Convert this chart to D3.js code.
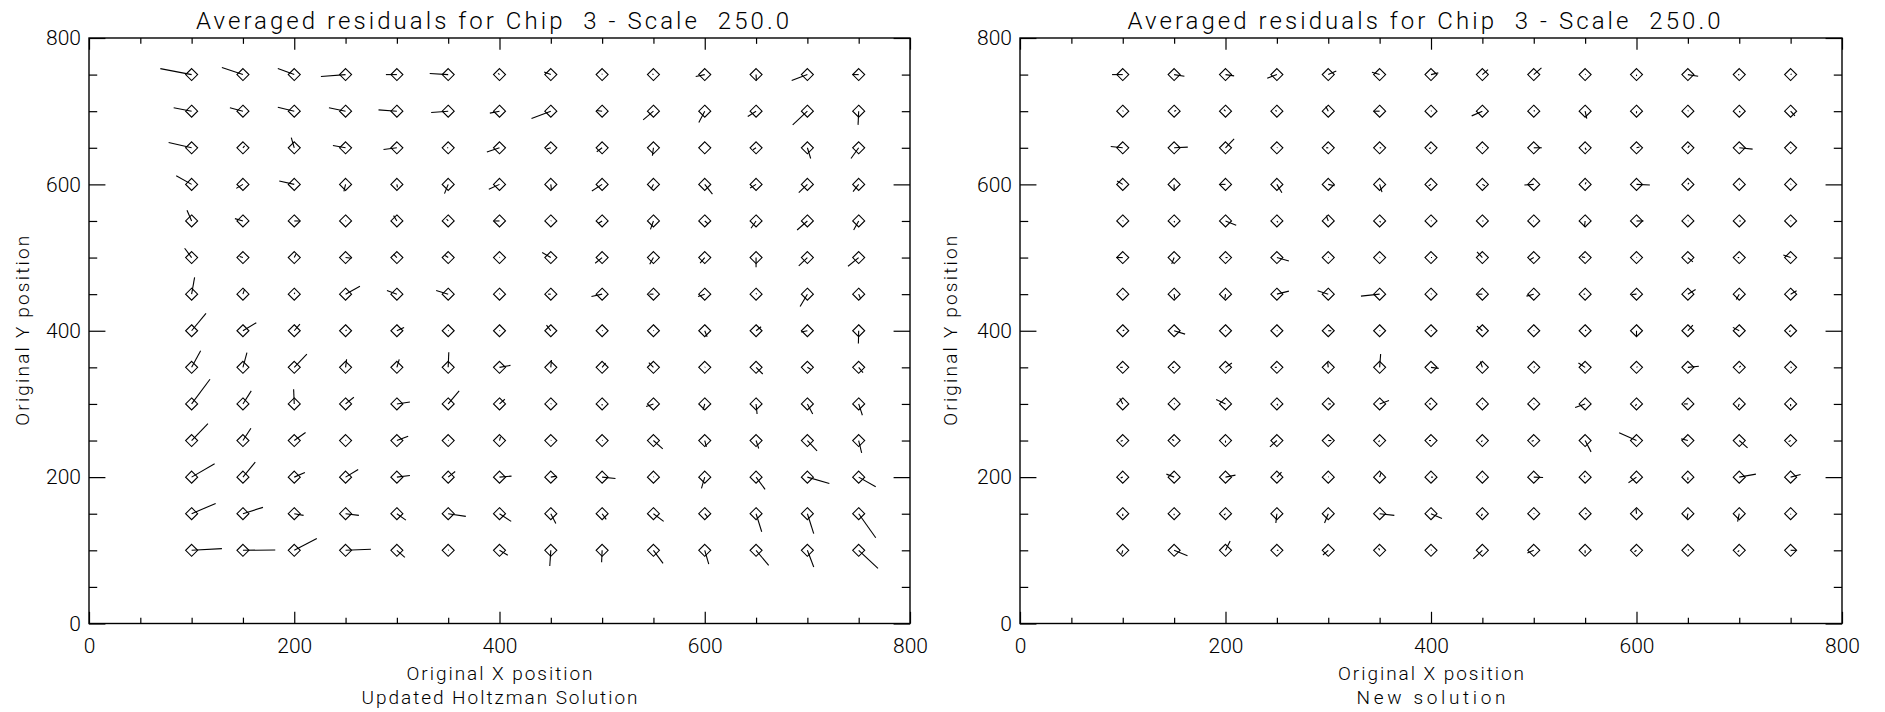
<!DOCTYPE html>
<html>
<head>
<meta charset="utf-8">
<script src="https://cdn.jsdelivr.net/npm/d3@7"></script>
<style>
  body { margin: 0; background: #fff; }
  svg text { font-family: Roboto, "DejaVu Sans", sans-serif; font-weight: 300; fill: #000; white-space: pre; }
</style>
</head>
<body>
<svg id="chart" width="1885" height="712"></svg>
<script>
// grid of original positions
const xGrid = [100, 150, 200, 250, 300, 350, 400, 450, 500, 550, 600, 650, 700, 750];
const yGrid = [750, 700, 650, 600, 550, 500, 450, 400, 350, 300, 250, 200, 150, 100];

// residuals already multiplied by the scale (plot units), one row per yGrid value
const leftDx = [
  [-30.5, -20.5, -16, -24, -10.7, -18, -1.3, -6.5, 0, -1, -8.8, 0.3, -15.3, -6.2],
  [-17.5, -12.7, -16, -16.2, -17.9, -16.6, -9.4, -18.8, -5.5, -10, -5.8, -8.1, -14.3, -0.6],
  [-22.4, 1.6, -2.9, -12.3, -13, -1, -12.3, -4.2, -5.2, -1, 0, -3, 3.2, -7.5],
  [-15, -6.5, -14.6, -1.6, 0.6, -3.6, -10.4, 0.6, -10, -2.3, 7.5, -5.8, -8.4, -5.5],
  [-4.5, -7.8, 5.5, 0.5, -3.2, -1.6, -5.5, 0.5, -3.6, -2.9, 3.2, -4.9, -10, -4.9],
  [-6.8, -3.2, 1.6, 5.8, -3.2, -3, 0.5, -8.4, -6.8, -3.6, -4.5, 0, -8.4, -10.4],
  [2.9, 1.6, 0.5, 14, -9.7, -11.7, 0.5, -2.6, -10.4, -3.9, -6.5, 0.5, -7.1, 2],
  [14, 13, 5.5, 1, 7, 0.5, 0.5, -4.2, 0.5, 0.5, 2.3, 4.9, -6.2, -0.3],
  [8.8, 3.9, 12.3, 1, 2.3, 0.6, 10.7, 0.6, 3.4, -4.5, 0.5, 6.5, 3.5, 4.2],
  [17.9, 8.1, -0.6, 8.1, 12.7, 10.7, 5.2, 0.5, 0, -7.1, -1.6, 1, 5.2, 3.6],
  [15.9, 7.8, 11, 0.5, 11, 0.5, 1, 0.5, 0.5, 9.1, 1.6, 2.6, 9.4, 2.9],
  [22.4, 12, 10.4, 12.3, 12.7, 6.8, 11.7, 5.5, 13, 0.5, -3.2, 8.8, 21.4, 16.6],
  [23.4, 19.5, 9.1, 13, 8.8, 17.2, 11.4, 4.9, 4, 10, 3, 5.5, 6.2, 16.6],
  [29.5, 31.5, 22, 24.7, 7.8, 0.5, 8.1, -1, -0.5, 9.4, 3.9, 12.3, 6.2, 18.8]
];
const leftDy = [
  [8.2, 9.6, 8.2, -2.7, 0, 1.4, 1.8, 3.6, 1, 1, -2.7, -8.2, -8.2, 0],
  [4.6, 4.6, 5.5, 4.6, 1.8, -1.8, -2.7, -10, 1, -11.8, -15.5, -7.3, -18.7, -18.7],
  [7.3, 2.7, 14, 3.2, -2.3, 0, -5.9, -1.8, -5.5, -10.9, 0, -2.7, -14.6, -14.6],
  [11.8, -5.5, 4.6, -9.6, -4, -12.7, -6.8, -7.7, -9.1, -6.8, -13.2, -5, -11.4, -10],
  [14.6, 3.2, 0, 0.5, 7.3, 2.7, 0, 0.5, -3.2, -11.4, -4, -10, -12.3, -12.3],
  [12.7, 1.4, 4.6, -0.9, 4.6, 2.7, 0.5, 6.8, -7.7, -9.1, -7.7, -13.2, -11.4, -11.8],
  [22.8, 6.8, 2, 10.9, 5, 5, 0.5, 0, -3.2, 0, -3.2, 1, -16.8, -6.8],
  [23.7, 10.9, 9.1, 1, 4.5, 0.5, 0.5, 7.7, 0.5, 0.5, -8.2, 5.5, -1.8, -17.3],
  [22.8, 20, 18.2, 11, 11, 20.5, 2.7, 10, 5.9, 6.4, 0.5, -9.1, -3, -7.3],
  [33.7, 17.8, 20, 9.1, 2.7, 17.8, 6.4, 0.5, -2, -3.6, -8.2, -13.7, -13.7, -15.5],
  [23.2, 16.8, 10.9, 0.5, 5.9, 0.5, 5, 0.5, 0.5, -11.4, -8.7, -10.9, -14.1, -16.8],
  [18.2, 20.5, 6.4, 10.5, 2.3, 7.7, 1.4, 1.4, -1.8, 0.5, -15.5, -16.8, -8.7, -13.2],
  [14.1, 8.7, -2.3, -2.3, -8.7, -3.6, -10.5, -13.2, -7.7, -10.5, -5, -24.6, -27.3, -32.8],
  [2.3, 0.5, 16, 1.4, -9.6, 0.5, -6.8, -21.4, -16.4, -17.8, -19, -20.5, -22.8, -24.6]
];
const rightDx = [
  [-10.4, 10, 8.4, -9.4, 7.8, -7.5, 7.1, 5.5, 7.5, 0.5, 0, 10, -1, 1],
  [0.5, 2, -1.5, -1.5, -2.3, -5.8, 0.5, -10.4, 1, 1.6, 0, 0.5, 1, 4.2],
  [-11.7, 13.3, 8.4, 0.5, -2, 1.5, -2, 0.5, 7.8, 1, 3, 1.5, 13, 0.5],
  [-5.5, 0, -5.2, 4.9, 6.2, 2.3, -2.3, 2.5, -9.1, 1, 13, 1, 0.5, 0.5],
  [0.5, 0.5, 10.4, 1, -1.9, 1, 0.5, 1, -0.5, -0.6, 6.8, 0.5, 1.5, 0.5],
  [-6.2, -2.3, 2, 11.7, 0.5, 0.5, 1, -5.2, -4.2, -3.2, 0.5, 4.9, -1.5, -7.1],
  [0.5, 0.6, -0.6, 11.7, -10.4, -18.2, 0.5, -4.5, -7.1, -1.5, -4.5, 7.5, -2.9, 5.8],
  [1.5, 10.7, 0.5, 0.5, 3, 0.5, 0.5, -5.2, 0.5, 1, 0, 4.9, -6.2, -1.5],
  [-2.5, -2, 6.2, -2, -0.6, 1, 7.5, -2, 1, -6.5, 1, 10.7, 1.5, 1],
  [-2.9, 0.5, -9.1, 1, 2.5, 9.1, -2, 0.5, 0.5, -9.7, -1, -3.9, -1, 0],
  [-2, -2, 0, -6.8, 3, -1, -2, -1, -2, 5.8, -16.9, -6.5, 8.1, -2],
  [-2, -7.5, 9.7, 4.5, 0.5, 1.3, 2, 0.5, 9.1, -1, -7.8, 0, 16.2, 9.7],
  [0, 0, -1.5, -1, -3.6, 14.3, 10.7, -1, 0.5, 1.5, -0.5, -1, -1.6, 0],
  [-1, 13, 4.5, 1.5, -5.2, -1, 0.5, -8.8, -6.2, 0, -2, 1, -1.5, 5.2]
];
const rightDy = [
  [0, -2.3, -1.8, -5, 5, 3.2, 2.3, 6.8, 9.1, 0.5, -2, -2.3, 0, 1],
  [0.5, 1, 2, 1, 6.4, 0, 0.5, -6.4, 1, -10, -3, 1, -1.5, -6.4],
  [1.8, 0.9, 12.3, 0.5, 0, 0, -1, 0.5, 0, -3, 1, 3, -1.8, 0.5],
  [4.6, -9.1, 0, -11.4, -1.8, -10.5, -1.8, -2, -0.9, 3, -0.9, 2, 0.5, 0.5],
  [0.5, -2, -5.9, -2, 7.3, -2, 0.5, 0, 0, -8.2, 0, 0.5, 0, 0.5],
  [0, -8.7, 0, -4.6, 0.5, 0.5, 0, 7.7, -3.2, 0.9, 0.5, -5.9, 0, 3.6],
  [0, -5.9, -5.9, 4.1, 4.6, -2.7, 0.5, 0, -2.7, 0, -0.5, 6.4, -7.3, 4.6],
  [1, -4.6, 0.5, 0.5, 0, 0.5, 0.5, 6.4, 0.5, 1, -7.3, 7.7, 4.6, -1],
  [0, 0, 5.9, 0, 7.3, 18.2, -1.4, 8, 1, 5.9, 1, 1.4, 2, 0],
  [7.7, 0.5, 5.9, -2, 0, 4.6, 0, 0.5, 0.5, -5, -3, 0, -4, -3],
  [-1, 1.5, -3, -8.7, 0, -2, 0, -2, -1, -15.5, 10.5, 2.3, -10, -1.5],
  [-1, 4.1, 2.7, 6.8, 0.5, 5.9, 0, 0.5, -0.5, 2, -7.7, -4, 4.1, 3.6],
  [-3, -2, -2, -12.7, -12.7, -2.3, -6.4, -3, 0.5, 0, 7.3, -7.3, -10.9, -1],
  [-5, -7.3, 12.7, 0, -6.4, 3, 0.5, -11.8, -3.6, -4, -2, 1, -2, 0]
];

const majorTicks = [0, 200, 400, 600, 800];
const minorTicks = [50, 100, 150, 250, 300, 350, 450, 500, 550, 650, 700, 750];
const title = "Averaged residuals for Chip  3 - Scale  250.0";

const panels = [
  { x0: 89, x1: 910, dx: leftDx, dy: leftDy, sub: "Updated Holtzman Solution", subLen: 276, ylabX: 29 },
  { x0: 1020, x1: 1842, dx: rightDx, dy: rightDy, sub: "New solution", subLen: 149, ylabX: 957 }
];

const plotTop = 38, plotBottom = 623.5;
const svg = d3.select("#chart");

panels.forEach((p) => {
  const x = d3.scaleLinear().domain([0, 800]).range([p.x0, p.x1]);
  const y = d3.scaleLinear().domain([0, 800]).range([plotBottom, plotTop]);
  const g = svg.append("g");
  const xLen = 0.02 * (plotBottom - plotTop), yLen = 0.02 * (p.x1 - p.x0);

  // frame
  g.append("rect")
    .attr("x", p.x0).attr("y", plotTop)
    .attr("width", p.x1 - p.x0).attr("height", plotBottom - plotTop)
    .attr("fill", "none").attr("stroke", "#000").attr("stroke-width", 1.4);

  // ticks, all pointing inward
  const addAxis = (axis, tr, labels) => {
    const a = g.append("g").attr("transform", tr).call(axis);
    a.select(".domain").remove();
    a.selectAll("line").attr("stroke", "#000").attr("stroke-width", 1.2);
    a.attr("font-family", null).attr("font-size", null);
    a.selectAll("text").style("font-size", "21px");
    if (!labels) a.selectAll("text").remove();
  };
  addAxis(d3.axisBottom(x).tickValues(majorTicks).tickSize(-xLen).tickPadding(15).tickFormat(d3.format("d")), `translate(0,${plotBottom})`, true);
  addAxis(d3.axisBottom(x).tickValues(minorTicks).tickSize(-xLen / 2).tickFormat(""), `translate(0,${plotBottom})`, false);
  addAxis(d3.axisTop(x).tickValues(majorTicks).tickSize(-xLen).tickFormat(""), `translate(0,${plotTop})`, false);
  addAxis(d3.axisTop(x).tickValues(minorTicks).tickSize(-xLen / 2).tickFormat(""), `translate(0,${plotTop})`, false);
  addAxis(d3.axisLeft(y).tickValues(majorTicks).tickSize(-yLen).tickPadding(8).tickFormat(d3.format("d")), `translate(${p.x0},0)`, true);
  addAxis(d3.axisLeft(y).tickValues(minorTicks).tickSize(-yLen / 2).tickFormat(""), `translate(${p.x0},0)`, false);
  addAxis(d3.axisRight(y).tickValues(majorTicks).tickSize(-yLen).tickFormat(""), `translate(${p.x1},0)`, false);
  addAxis(d3.axisRight(y).tickValues(minorTicks).tickSize(-yLen / 2).tickFormat(""), `translate(${p.x1},0)`, false);

  // residual vectors and diamonds
  const pts = [];
  yGrid.forEach((yv, i) => xGrid.forEach((xv, j) => {
    pts.push({ x: xv, y: yv, dx: p.dx[i][j], dy: p.dy[i][j] });
  }));

  g.append("g").selectAll("line").data(pts).join("line")
    .attr("x1", (d) => x(d.x)).attr("y1", (d) => y(d.y))
    .attr("x2", (d) => x(d.x + d.dx)).attr("y2", (d) => y(d.y + d.dy))
    .attr("stroke", "#000").attr("stroke-width", 1.1);

  const r = 6;
  g.append("g").selectAll("path").data(pts).join("path")
    .attr("d", (d) => {
      const cx = x(d.x), cy = y(d.y);
      return `M${cx},${cy - r}L${cx + r},${cy}L${cx},${cy + r}L${cx - r},${cy}Z`;
    })
    .attr("fill", "none").attr("stroke", "#000").attr("stroke-width", 1.1);

  // texts
  const cx = (p.x0 + p.x1) / 2;
  g.append("text").attr("x", cx - 7).attr("y", 29).attr("text-anchor", "middle")
    .style("font-size", "24px").attr("textLength", 593).attr("lengthAdjust", "spacing")
    .text(title);
  g.append("text").attr("x", cx).attr("y", 680).attr("text-anchor", "middle")
    .style("font-size", "19px").attr("textLength", 186).attr("lengthAdjust", "spacing")
    .text("Original X position");
  g.append("text").attr("x", cx).attr("y", 704).attr("text-anchor", "middle")
    .style("font-size", "19px").attr("textLength", p.subLen).attr("lengthAdjust", "spacing")
    .text(p.sub);
  g.append("text")
    .attr("transform", `translate(${p.ylabX},${(plotTop + plotBottom) / 2}) rotate(-90)`)
    .attr("text-anchor", "middle")
    .style("font-size", "19px").attr("textLength", 190).attr("lengthAdjust", "spacing")
    .text("Original Y position");
});
</script>
</body>
</html>
